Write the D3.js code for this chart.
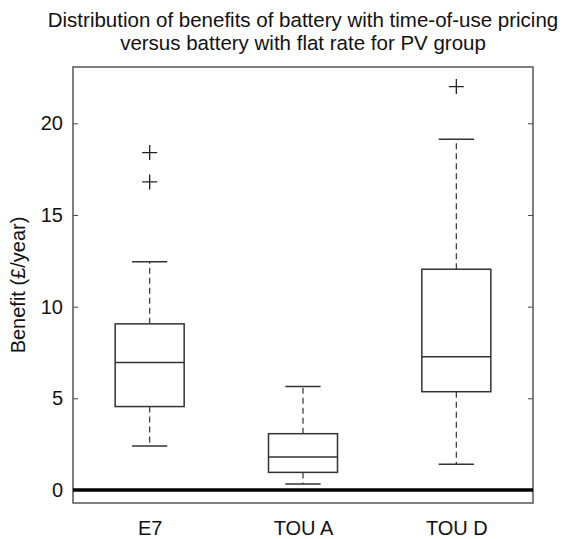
<!DOCTYPE html>
<html>
<head>
<meta charset="utf-8">
<script src="https://cdn.jsdelivr.net/npm/d3@7"></script>
<style>
  body { margin: 0; background: #fff; }
  text { font-family: "Liberation Sans", Arial, sans-serif; fill: #111; }
</style>
</head>
<body>
<script>
// box plot values
var groups = ["E7", "TOU A", "TOU D"];
var whiskerLow = [2.4, 0.33, 1.4];
var q1 = [4.55, 0.96, 5.36];
var median = [6.95, 1.8, 7.27];
var q3 = [9.06, 3.07, 12.04];
var whiskerHigh = [12.45, 5.64, 19.13];
var outliers = [[18.4, 16.8], [], [22.0]];
var yTicks = [0, 5, 10, 15, 20];

var svgWidth = 562;
var svgHeight = 539;

var margin = { top: 67, bottom: 36, left: 73, right: 29 };
var chartWidth = svgWidth - margin.left - margin.right;
var chartHeight = svgHeight - margin.top - margin.bottom;

var svg = d3.select('body')
    .append('svg')
    .attr('width', svgWidth)
    .attr('height', svgHeight);

var chartGroup = svg.append('g')
    .attr('transform', `translate(${margin.left},${margin.top})`);

// Scales
var xScale = d3.scaleLinear()
    .domain([0.5, groups.length + 0.5])
    .range([0, chartWidth]);

var yScale = d3.scaleLinear()
    .domain([-0.71, 23.07])
    .range([chartHeight, 0]);

var boxW = xScale(0.45) - xScale(0);
var capW = xScale(0.23) - xScale(0);

// Axes (ticks inward, mirrored on right)
var yAxis = d3.axisLeft(yScale).tickValues(yTicks).tickSizeInner(-5).tickSizeOuter(0).tickPadding(10);
var yAxisR = d3.axisRight(yScale).tickValues(yTicks).tickSizeInner(-5).tickSizeOuter(0).tickFormat('');

var gy = chartGroup.append('g').call(yAxis);
gy.selectAll('text').attr('font-size', '20px').style('fill', '#111');
gy.select('.domain').remove();
gy.selectAll('line').attr('stroke', '#444');

var gyR = chartGroup.append('g').attr('transform', `translate(${chartWidth},0)`).call(yAxisR);
gyR.select('.domain').remove();
gyR.selectAll('line').attr('stroke', '#444');

var xAxis = d3.axisBottom(xScale).tickValues([1, 2, 3]).tickSize(0).tickPadding(18)
    .tickFormat(function(d) { return groups[d - 1]; });
var gx = chartGroup.append('g').attr('transform', `translate(0,${chartHeight})`).call(xAxis);
gx.select('.domain').remove();
gx.selectAll('text').attr('font-size', '20px').style('fill', '#111');

// frame
chartGroup.append('rect')
    .attr('x', 0).attr('y', 0)
    .attr('width', chartWidth).attr('height', chartHeight)
    .attr('fill', 'none').attr('stroke', '#555').attr('stroke-width', 1.5);

// zero line
chartGroup.append('line')
    .attr('x1', 0).attr('x2', chartWidth)
    .attr('y1', yScale(0)).attr('y2', yScale(0))
    .attr('stroke', '#000').attr('stroke-width', 3.5);

var idx = d3.range(groups.length);

// whiskers
chartGroup.selectAll('.whisk-up').data(idx).enter().append('line')
    .attr('x1', i => xScale(i + 1)).attr('x2', i => xScale(i + 1))
    .attr('y1', i => yScale(q3[i])).attr('y2', i => yScale(whiskerHigh[i]))
    .attr('stroke', '#333').attr('stroke-width', 1.2).attr('stroke-dasharray', '6,4');
chartGroup.selectAll('.whisk-dn').data(idx).enter().append('line')
    .attr('x1', i => xScale(i + 1)).attr('x2', i => xScale(i + 1))
    .attr('y1', i => yScale(q1[i])).attr('y2', i => yScale(whiskerLow[i]))
    .attr('stroke', '#333').attr('stroke-width', 1.2).attr('stroke-dasharray', '6,4');

// caps
[whiskerHigh, whiskerLow].forEach(function(arr) {
    chartGroup.selectAll(null).data(idx).enter().append('line')
        .attr('x1', i => xScale(i + 1) - capW / 2).attr('x2', i => xScale(i + 1) + capW / 2)
        .attr('y1', i => yScale(arr[i])).attr('y2', i => yScale(arr[i]))
        .attr('stroke', '#333').attr('stroke-width', 1.5);
});

// boxes
chartGroup.selectAll('.box').data(idx).enter().append('rect')
    .attr('x', i => xScale(i + 1) - boxW / 2)
    .attr('y', i => yScale(q3[i]))
    .attr('width', boxW)
    .attr('height', i => yScale(q1[i]) - yScale(q3[i]))
    .attr('fill', 'none').attr('stroke', '#333').attr('stroke-width', 1.5);

// medians
chartGroup.selectAll('.med').data(idx).enter().append('line')
    .attr('x1', i => xScale(i + 1) - boxW / 2).attr('x2', i => xScale(i + 1) + boxW / 2)
    .attr('y1', i => yScale(median[i])).attr('y2', i => yScale(median[i]))
    .attr('stroke', '#333').attr('stroke-width', 1.5);

// outliers as plus signs
var outData = [];
outliers.forEach((arr, i) => arr.forEach(v => outData.push({ g: i + 1, v: v })));
chartGroup.selectAll('.out').data(outData).enter().append('path')
    .attr('transform', d => `translate(${xScale(d.g)},${yScale(d.v)})`)
    .attr('d', 'M-7.5,0H7.5M0,-7.5V7.5')
    .attr('stroke', '#222').attr('stroke-width', 1.3).attr('fill', 'none');

// title
var cx = margin.left + chartWidth / 2;
var title = svg.append('text')
    .attr('text-anchor', 'middle')
    .attr('font-size', '20.5px');
title.append('tspan').attr('x', cx).attr('y', 27)
    .text('Distribution of benefits of battery with time-of-use pricing');
title.append('tspan').attr('x', cx).attr('y', 50)
    .text('versus battery with flat rate for PV group');

// y axis label
svg.append('text')
    .attr('transform', `translate(25,${margin.top + chartHeight / 2}) rotate(-90)`)
    .attr('text-anchor', 'middle')
    .attr('font-size', '20px')
    .text('Benefit (£/year)');
</script>
</body>
</html>
